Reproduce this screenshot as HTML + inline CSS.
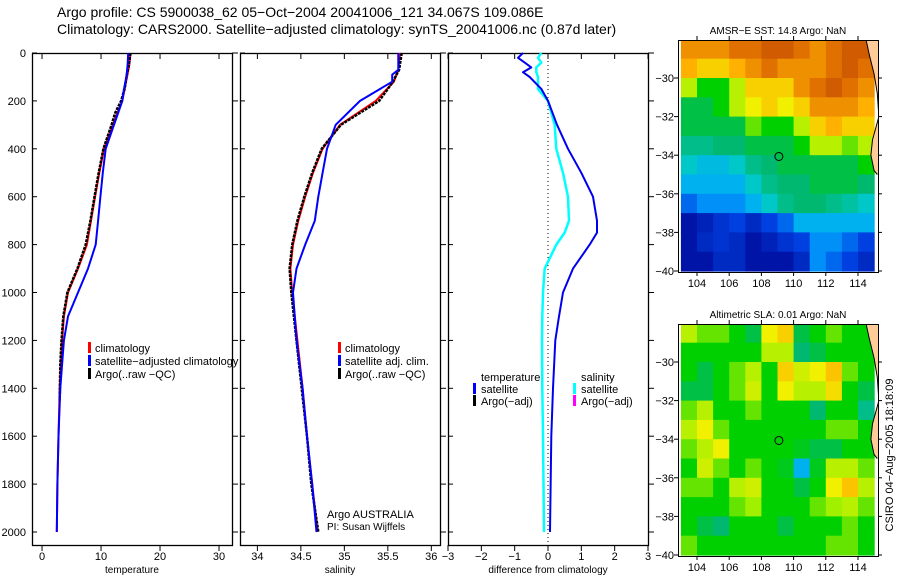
<!DOCTYPE html>
<html><head><meta charset="utf-8">
<style>
html,body{margin:0;padding:0;background:#fff;}
svg{display:block;font-family:"Liberation Sans",sans-serif;}
</style></head>
<body>
<svg id="fig" width="900" height="580" viewBox="0 0 900 580">
<text x="57" y="17" font-size="14">Argo profile: CS 5900038_62 05−Oct−2004 20041006_121 34.067S 109.086E</text>
<text x="57" y="34" font-size="14">Climatology: CARS2000. Satellite−adjusted climatology: synTS_20041006.nc (0.87d later)</text>
</svg>
<script>
// ---------- data ----------
const depthT = [0,50,100,150,200,300,400,500,600,700,800,900,1000,1100,1200,1400,1600,1800,2000];
const tempClim = [15.0,14.8,14.4,14.0,13.6,12.0,10.5,9.7,9.0,8.3,7.6,6.1,4.4,3.7,3.4,3.0,2.8,2.6,2.5];
const tempSat  = [14.6,14.5,14.3,13.9,13.6,12.2,10.8,10.3,9.9,9.5,9.1,7.8,6.1,4.4,3.7,3.1,2.8,2.6,2.5];
const depthArgo = [0,50,100,150,200,250,300,400,500,600,700,800,900,1000,1100,1200,1300,1450];
const tempArgo = [15.0,14.7,14.3,14.0,13.4,12.4,11.8,10.4,9.6,8.9,8.2,7.4,6.0,4.3,3.6,3.3,3.1,3.0];
const depthS = [0,70,90,120,200,300,400,500,600,700,800,900,1000,1200,1400,1600,1800,2000];
const salClim = [35.64,35.62,35.60,35.57,35.36,34.95,34.75,34.64,34.55,34.47,34.41,34.38,34.40,34.46,34.52,34.57,34.63,34.69];
const salSat  = [35.62,35.62,35.55,35.55,35.18,34.90,34.80,34.75,34.70,34.66,34.55,34.45,34.41,34.45,34.52,34.57,34.63,34.68];
const salArgo = [35.66,35.63,35.60,35.56,35.40,34.96,34.74,34.63,34.54,34.46,34.40,34.37,34.39,34.45,34.51,34.57,34.62,34.70];
const depthD = [0,20,40,60,80,100,150,200,300,400,500,600,700,750,800,900,1000,1100,1200,1400,1600,2000];
const diffTemp = [-0.75,-0.9,-0.7,-0.5,-0.75,-0.55,-0.2,0.0,0.27,0.6,1.0,1.35,1.47,1.47,1.25,0.75,0.45,0.33,0.22,0.15,0.1,0.06];
const diffSal  = [-0.2,-0.3,-0.2,-0.35,-0.35,-0.3,-0.3,0.0,0.2,0.25,0.45,0.6,0.63,0.5,0.25,-0.1,-0.15,-0.17,-0.18,-0.17,-0.15,-0.12];
const depthTicks = [0,200,400,600,800,1000,1200,1400,1600,1800,2000];
const tempTicks = [0,10,20,30];
const salTicks = [34,34.5,35,35.5,36];
const diffTicks = [-3,-2,-1,0,1,2,3];
const latTicks = [-30,-32,-34,-36,-38,-40];
const lonTicks = [104,106,108,110,112,114];
const sstGrid = [
[0.8,0.8,0.8,0.85,0.85,0.9,0.9,0.85,0.8,0.85,0.9,0.9],
[0.75,0.7,0.7,0.75,0.8,0.85,0.8,0.8,0.8,0.85,0.9,0.85],
[0.6,0.5,0.5,0.6,0.7,0.7,0.7,0.8,0.85,0.9,0.85,0.8],
[0.45,0.45,0.5,0.6,0.65,0.7,0.65,0.7,0.8,0.8,0.8,0.75],
[0.45,0.45,0.45,0.45,0.55,0.5,0.5,0.6,0.7,0.75,0.7,0.7],
[0.4,0.4,0.42,0.42,0.45,0.45,0.45,0.5,0.6,0.6,0.55,0.6],
[0.35,0.32,0.32,0.35,0.4,0.42,0.45,0.45,0.45,0.45,0.45,0.5],
[0.3,0.3,0.3,0.3,0.35,0.4,0.42,0.42,0.45,0.45,0.45,0.42],
[0.2,0.25,0.25,0.25,0.3,0.35,0.4,0.42,0.42,0.4,0.38,0.35],
[0.05,0.08,0.12,0.15,0.1,0.15,0.2,0.3,0.3,0.3,0.3,0.3],
[0.05,0.1,0.12,0.1,0.05,0.08,0.12,0.15,0.25,0.25,0.2,0.15],
[0.05,0.05,0.1,0.1,0.05,0.05,0.05,0.1,0.25,0.2,0.15,0.1]];
const slaGrid = [
[0.6,0.55,0.55,0.5,0.45,0.65,0.7,0.45,0.5,0.55,0.5,0.5],
[0.5,0.5,0.5,0.5,0.5,0.6,0.6,0.42,0.45,0.5,0.5,0.5],
[0.5,0.45,0.5,0.55,0.6,0.5,0.7,0.62,0.65,0.72,0.55,0.5],
[0.45,0.45,0.5,0.55,0.62,0.5,0.65,0.6,0.6,0.68,0.5,0.45],
[0.55,0.6,0.5,0.5,0.55,0.5,0.5,0.5,0.42,0.5,0.5,0.4],
[0.6,0.65,0.55,0.5,0.5,0.5,0.5,0.5,0.5,0.55,0.55,0.5],
[0.55,0.6,0.65,0.5,0.5,0.5,0.5,0.48,0.45,0.45,0.5,0.5],
[0.5,0.62,0.55,0.5,0.55,0.5,0.48,0.3,0.48,0.6,0.6,0.55],
[0.55,0.55,0.5,0.6,0.62,0.5,0.5,0.45,0.5,0.65,0.72,0.6],
[0.5,0.5,0.5,0.55,0.58,0.5,0.5,0.5,0.55,0.58,0.6,0.55],
[0.5,0.45,0.42,0.5,0.5,0.5,0.45,0.5,0.5,0.5,0.55,0.5],
[0.55,0.5,0.5,0.5,0.5,0.5,0.5,0.5,0.5,0.55,0.55,0.5]];
const gridLon0 = 103, gridLat0 = -28;
const argoLon = 109.086, argoLat = -34.067;
const coastLon = [114.5,114.7,115.0,115.2,115.3,115.1,114.9,114.8,115.0,115.2];
const coastLat = [-28,-28.8,-29.8,-30.8,-32.0,-32.6,-33.2,-34.0,-34.8,-35.0];

// ---------- helpers ----------
const NS = "http://www.w3.org/2000/svg";
const svg = document.getElementById("fig");
function mk(tag, attrs, parent){
  const e = document.createElementNS(NS, tag);
  for (const k in attrs) e.setAttribute(k, attrs[k]);
  (parent||svg).appendChild(e);
  return e;
}
const FS = 11;

// ---------- profile panels ----------
const Y0 = 53, Y1 = 545, DMAX = (545-53)/((532-53)/2000);
function yDepth(d){ return Y0 + d*(532-53)/2000; }

function panel(name, x0, x1, vmin, vmax){
  const g = mk("g", {});
  
  
  const r = mk("rect", {x:x0+0.5,y:Y0+0.5,width:x1-x0,height:Y1-Y0,fill:"#fff",stroke:"#000","stroke-width":1.3}, g);
  
  
  return {g, x:v => x0 + (v - vmin)/(vmax - vmin)*(x1 - x0), x0, x1};
}
function depthAxis(p, labels){
  depthTicks.forEach(d => {
    const y = yDepth(d);
    mk("line", {x1:p.x0,y1:y,x2:p.x0+5,y2:y,stroke:"#000"}, p.g);
    mk("line", {x1:p.x1,y1:y,x2:p.x1+6,y2:y,stroke:"#000"}, p.g);
    if (labels){
      const t = mk("text", {x:p.x0-6,y:y+4,"font-size":FS,"text-anchor":"end"}, p.g);
      t.textContent = d;
      
      
    }
  });
}
function xAxis(p, ticks, title, fmt){
  ticks.forEach(v => {
    const x = p.x(v);
    mk("line", {x1:x,y1:Y0,x2:x,y2:Y0+6,stroke:"#000"}, p.g);
    mk("line", {x1:x,y1:Y1,x2:x,y2:Y1+6,stroke:"#000"}, p.g);
    const t = mk("text", {x:x,y:560,"font-size":FS,"text-anchor":"middle"}, p.g);
    t.textContent = fmt ? fmt(v) : v;
    
    
  });
  const tt = mk("text", {x:(p.x0+p.x1)/2,y:573,"font-size":10,"text-anchor":"middle"}, p.g);
  tt.textContent = title;
  
  
}
function line(p, vals, depths, color, w, name){
  const pts = vals.map((v,i) => p.x(v).toFixed(1)+","+yDepth(depths[i]).toFixed(1)).join(" ");
  const l = mk("polyline", {points:pts,fill:"none",stroke:color,"stroke-width":w,"stroke-linejoin":"round"}, p.g);
  
  
  return l;
}
function legend(p, x, y, items){
  items.forEach((it,i) => {
    const yy = y + i*13;
    mk("rect", {x:x,y:yy-10,width:3,height:11,fill:it[1]}, p.g);
    const t = mk("text", {x:x+7,y:yy,"font-size":FS}, p.g);
    t.textContent = it[0];
    
    
  });
}

// Temperature panel
const pT = panel("temperature-panel", 32, 232, -1.7, 32.2);
depthAxis(pT, true);
xAxis(pT, tempTicks, "temperature");
line(pT, tempClim, depthT, "#ff0000", 2, "temperature-climatology-line");
line(pT, tempArgo, depthArgo, "#000", 2.5, "temperature-argo-line").setAttribute("stroke-dasharray","3 1");
line(pT, tempSat, depthT, "#0000ff", 2, "temperature-satellite-line");
legend(pT, 88, 352, [["climatology","#ff0000"],["satellite−adjusted climatology","#0000ff"],["Argo(..raw −QC)","#000"]]);

// Salinity panel
const pS = panel("salinity-panel", 240, 440, 33.80, 36.10);
depthAxis(pS, false);
xAxis(pS, salTicks, "salinity");
line(pS, salClim, depthS, "#ff0000", 2, "salinity-climatology-line");
line(pS, salArgo, depthS, "#000", 2.5, "salinity-argo-line").setAttribute("stroke-dasharray","3 1");
line(pS, salSat, depthS, "#0000ff", 2, "salinity-satellite-line");
legend(pS, 338, 352, [["climatology","#ff0000"],["satellite adj. clim.","#0000ff"],["Argo(..raw −QC)","#000"]]);
const c1 = mk("text", {x:327,y:518,"font-size":FS}, pS.g); c1.textContent = "Argo AUSTRALIA";


const c2 = mk("text", {x:327,y:530,"font-size":10}, pS.g); c2.textContent = "PI: Susan Wijffels";



// Difference panel
const pD = panel("difference-panel", 448, 648, -3, 3);
depthAxis(pD, false);
xAxis(pD, diffTicks, "difference from climatology", v => v < 0 ? "−"+(-v) : v);
const zl = mk("line", {x1:pD.x(0),y1:Y0,x2:pD.x(0),y2:Y1,stroke:"#000","stroke-dasharray":"1 3"}, pD.g);


line(pD, diffSal, depthD, "#00ffff", 2.5, "salinity-difference-line");
line(pD, diffTemp, depthD, "#0000ee", 2, "temperature-difference-line");
[["temperature",null],["satellite","#0000ff"],["Argo(−adj)","#000"]].forEach((it,i)=>{
  const yy = 381 + i*12;
  if (it[1]) mk("rect",{x:473,y:yy-10,width:3,height:11,fill:it[1]},pD.g);
  const t = mk("text",{x:481,y:yy,"font-size":FS},pD.g); t.textContent = it[0];
  
  
});
[["salinity",null],["satellite","#00ffff"],["Argo(−adj)","#ff00ff"]].forEach((it,i)=>{
  const yy = 381 + i*12;
  if (it[1]) mk("rect",{x:573,y:yy-10,width:3,height:11,fill:it[1]},pD.g);
  const t = mk("text",{x:581,y:yy,"font-size":FS},pD.g); t.textContent = it[0];
  
  
});

// ---------- maps ----------
const stops = [[0,"#00008a"],[0.15,"#0040e0"],[0.28,"#00a8ff"],[0.35,"#00c8c8"],[0.42,"#00b870"],[0.5,"#00d000"],[0.58,"#a0f000"],[0.65,"#f0f000"],[0.75,"#ffb000"],[0.85,"#e07000"],[1,"#b03000"]];
function hex(c){return [1,3,5].map(i=>parseInt(c.substr(i,2),16));}
function cmap(v){
  for (let i=1;i<stops.length;i++){
    if (v<=stops[i][0]){
      const a=stops[i-1], b=stops[i], t=(v-a[0])/(b[0]-a[0]);
      const ca=hex(a[1]), cb=hex(b[1]);
      return "rgb("+ca.map((x,k)=>Math.round(x+(cb[k]-x)*t)).join(",")+")";
    }
  }
  return stops[stops.length-1][1];
}
function map(name, title, grid, top, lat30y, lat40y){
  const X0=678, X1=878, Yb=lat40y+1;
  const pxLon = (858-697)/10;
  const xLon = lon => 697 + (lon-104)*pxLon;
  const pxLat = (lat40y-lat30y)/10;
  const yLat = lat => lat30y + (-30-lat)*pxLat;
  const g = mk("g", {});
  
  
  const cp = mk("clipPath",{id:name+"-clip"},g);
  mk("rect",{x:X0,y:top,width:X1-X0,height:Yb-top},cp);
  const cells = mk("g",{"clip-path":"url(#"+name+"-clip)"},g);
  grid.forEach((row,r)=>row.forEach((v,c)=>{
    const x = xLon(gridLon0+c), y = yLat(gridLat0 - r);
    const cell = mk("rect",{x:x.toFixed(1),y:y.toFixed(1),width:(pxLon+0.6).toFixed(1),height:(pxLat+0.6).toFixed(1),fill:cmap(v)},cells);
    
    
  }));
  // land
  const coastPts = coastLon.map((lo,i)=>xLon(lo).toFixed(1)+","+yLat(coastLat[i]).toFixed(1));
  const land = mk("polygon",{points:coastPts.join(" ")+" "+X1+","+yLat(-35)+" "+X1+","+top,fill:"#ffcc99"},cells);
  
  
  const coast = mk("polyline",{points:coastPts.join(" "),fill:"none",stroke:"#000","stroke-width":1},cells);
  
  
  const fr = mk("rect",{x:X0+0.5,y:top+0.5,width:X1-X0,height:Yb-top,fill:"none",stroke:"#000"},g);
  
  
  const m = mk("circle",{cx:xLon(argoLon),cy:yLat(argoLat),r:4,fill:"none",stroke:"#000","stroke-width":1},g);
  
  
  latTicks.forEach(l=>{
    const y=yLat(l);
    mk("line",{x1:X0-4,y1:y,x2:X0,y2:y,stroke:"#000"},g);
    mk("line",{x1:X1,y1:y,x2:X1+4,y2:y,stroke:"#000"},g);
    const t=mk("text",{x:X0-4,y:y+4,"font-size":FS,"text-anchor":"end"},g); t.textContent="−"+(-l);
    
    
  });
  lonTicks.forEach(lo=>{
    const x=xLon(lo);
    mk("line",{x1:x,y1:top-4,x2:x,y2:top,stroke:"#000"},g);
    mk("line",{x1:x,y1:Yb,x2:x,y2:Yb+4,stroke:"#000"},g);
    const t=mk("text",{x:x,y:Yb+15,"font-size":FS,"text-anchor":"middle"},g); t.textContent=lo;
    
    
  });
  const tt=mk("text",{x:(X0+X1)/2,y:top-6,"font-size":10,"text-anchor":"middle"},g); tt.textContent=title;
  
  
}
map("sst-map","AMSR−E SST: 14.8 Argo: NaN", sstGrid, 40, 78, 271);
map("sla-map","Altimetric SLA: 0.01 Argo: NaN", slaGrid, 324, 362, 555);
const st = mk("text",{x:0,y:0,"font-size":11,"text-anchor":"middle",transform:"translate(893,455) rotate(-90)"});
st.textContent = "CSIRO 04−Aug−2005 18:18:09";


</script>
</body></html>
